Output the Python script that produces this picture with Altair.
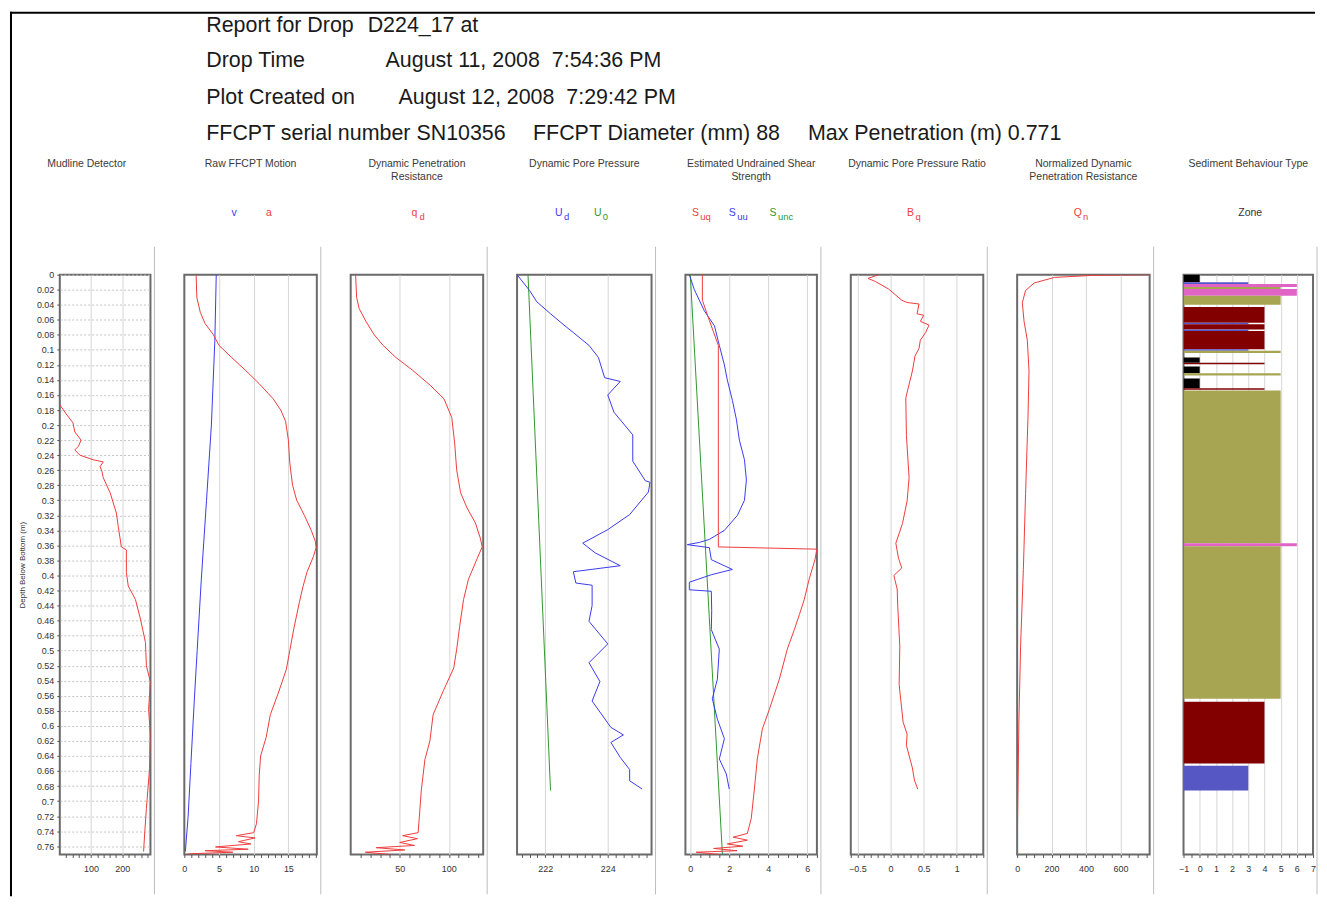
import json
import altair as alt
import pandas as pd

# ------------------------------------------------------------------ text
NB = "\u00a0"
HEADER_TEXT = [
    "Report for Drop", "D224_17 at",
    "Drop Time", "August 11, 2008" + NB + " 7:54:36 PM",
    "Plot Created on", "August 12, 2008" + NB + " 7:29:42 PM",
    "FFCPT serial number SN10356", "FFCPT Diameter (mm) 88", "Max Penetration (m) 0.771",
]
PANEL_TITLES = [
    ["Mudline Detector"],
    ["Raw FFCPT Motion"],
    ["Dynamic Penetration", "Resistance"],
    ["Dynamic Pore Pressure"],
    ["Estimated Undrained Shear", "Strength"],
    ["Dynamic Pore Pressure Ratio"],
    ["Normalized Dynamic", "Penetration Resistance"],
    ["Sediment Behaviour Type"],
]
Y_TITLE = "Depth Below Bottom (m)"
MAX_PEN = 0.771
DEPTH_TICKS = [round(0.02 * k, 2) for k in range(39)]

# ------------------------------------------------------------------ data
# Panel 1 : mudline detector
MUD_DEPTH = [0.173, 0.185, 0.197, 0.209, 0.220, 0.228, 0.233, 0.240, 0.246, 0.249, 0.255,
             0.262, 0.270, 0.290, 0.317, 0.335, 0.362, 0.366, 0.396, 0.414, 0.432, 0.458,
             0.489, 0.520, 0.542, 0.578, 0.613, 0.657, 0.710, 0.740, 0.767]
MUD_VAL = [0, 20, 42, 48, 68, 60, 48, 64, 106, 139, 129, 135, 139, 161, 181, 187, 197, 213,
           213, 219, 242, 258, 274, 277, 290, 284, 290, 287, 277, 272, 268]

# Panel 2 : velocity (v) and deceleration (a)
V_DEPTH = [0.0, 0.087, 0.2, 0.3, 0.405, 0.5, 0.564, 0.65, 0.72, 0.767]
V_VAL = [4.6, 4.4, 3.9, 3.2, 2.45, 1.85, 1.45, 0.95, 0.55, 0.15]
A_DEPTH = [0.000, 0.030, 0.050, 0.065, 0.080, 0.094, 0.110, 0.127, 0.145, 0.165, 0.180,
           0.195, 0.220, 0.250, 0.280, 0.300, 0.320, 0.340, 0.355, 0.363, 0.375, 0.395,
           0.415, 0.435, 0.470, 0.500, 0.525, 0.555, 0.585, 0.615, 0.640, 0.665, 0.700,
           0.730, 0.742, 0.746, 0.749, 0.754, 0.757, 0.761, 0.764, 0.766, 0.768, 0.770, 0.771]
A_VAL = [1.7, 1.8, 2.3, 3.0, 4.2, 5.0, 6.8, 8.8, 10.8, 12.8, 13.9, 14.6, 15.0, 15.2, 15.6,
         16.2, 17.3, 18.3, 18.9, 19.0, 18.6, 17.7, 17.1, 16.6, 15.8, 15.2, 14.7, 13.6, 12.4,
         11.8, 11.0, 10.8, 10.7, 10.4, 10.0, 7.5, 10.2, 7.8, 9.6, 4.5, 9.2, 3.0, 7.0, 1.0, 0.3]

# Panel 3 : dynamic penetration resistance qd
QD_DEPTH = [0.000, 0.030, 0.045, 0.062, 0.080, 0.094, 0.110, 0.127, 0.147, 0.165, 0.190,
            0.225, 0.260, 0.290, 0.310, 0.330, 0.350, 0.362, 0.377, 0.405, 0.432, 0.468,
            0.498, 0.523, 0.553, 0.585, 0.620, 0.645, 0.685, 0.720, 0.742, 0.746, 0.750,
            0.755, 0.759, 0.762, 0.765, 0.768, 0.771]
QD_VAL = [5, 6, 8.6, 15.5, 24, 33, 46, 63, 81, 95, 103, 106, 108, 112, 118.5, 127, 132, 134,
          129, 120, 115, 111, 108, 105, 94.5, 84, 80.7, 75.6, 72, 70, 68.7, 53, 68, 50, 65,
          26, 55, 15, 40]

# Panel 4 : dynamic pore pressure ud and u0
UD_DEPTH = [0.0, 0.021, 0.036, 0.052, 0.067, 0.077, 0.094, 0.110, 0.137, 0.142, 0.160,
            0.183, 0.213, 0.248, 0.274, 0.276, 0.289, 0.319, 0.339, 0.357, 0.370, 0.387,
            0.395, 0.410, 0.413, 0.440, 0.461, 0.486, 0.491, 0.516, 0.541, 0.567, 0.602,
            0.612, 0.622, 0.642, 0.658, 0.673, 0.684]
UD_VAL = [221.1, 221.5, 221.73, 222.17, 222.6, 222.9, 223.4, 223.7, 223.9, 224.4, 224.0,
          224.2, 224.8, 224.8, 225.2, 225.35, 225.3, 224.7, 224.0, 223.2, 223.6, 224.4,
          222.9, 222.98, 223.5, 223.5, 223.4, 223.9, 224.0, 223.4, 223.75, 223.5, 224.1,
          224.5, 224.1, 224.4, 224.7, 224.7, 225.1]
U0_DEPTH = [0.0, 0.686]
U0_VAL = [221.45, 222.17]

# Panel 5 : undrained shear strength
SUQ_DEPTH = [0.000, 0.034, 0.061, 0.094, 0.362, 0.365, 0.379, 0.405, 0.432, 0.452, 0.472,
             0.498, 0.538, 0.578, 0.604, 0.644, 0.684, 0.723, 0.743, 0.748, 0.752, 0.757,
             0.760, 0.763, 0.766, 0.768, 0.771]
SUQ_VAL = [0.62, 0.62, 0.98, 1.44, 1.44, 6.5, 6.4, 6.1, 5.85, 5.6, 5.34, 4.98, 4.57, 4.06,
           3.7, 3.44, 3.29, 3.13, 2.93, 2.2, 2.93, 1.9, 2.7, 1.2, 2.4, 0.3, 1.5]
SUU_DEPTH = [0.0, 0.02, 0.048, 0.068, 0.094, 0.12, 0.14, 0.167, 0.193, 0.22, 0.246, 0.273,
             0.30, 0.32, 0.34, 0.352, 0.356, 0.359, 0.363, 0.379, 0.392, 0.399, 0.409, 0.419,
             0.421, 0.447, 0.472, 0.498, 0.538, 0.564, 0.591, 0.617, 0.644, 0.664, 0.684]
SUU_VAL = [-0.05, 0.21, 0.72, 1.24, 1.49, 1.75, 1.9, 2.16, 2.37, 2.52, 2.78, 2.88, 2.78,
           2.42, 1.75, 0.98, 0.47, -0.15, 0.98, 1.08, 2.16, 1.08, -0.05, -0.05, 1.08, 1.1,
           1.08, 1.49, 1.39, 1.13, 1.39, 1.75, 1.49, 1.85, 2.0]
SUNC_DEPTH = [0.0, 0.771]
SUNC_VAL = [0.0, 1.65]

# Panel 6 : pore pressure ratio Bq
BQ_DEPTH = [0.0, 0.005, 0.009, 0.019, 0.034, 0.037, 0.039, 0.052, 0.054, 0.062, 0.067,
            0.077, 0.087, 0.098, 0.108, 0.128, 0.153, 0.164, 0.214, 0.270, 0.301, 0.331,
            0.357, 0.377, 0.390, 0.400, 0.418, 0.443, 0.494, 0.545, 0.595, 0.611, 0.626,
            0.656, 0.672, 0.684]
BQ_VAL = [-0.18, -0.34, -0.23, -0.03, 0.17, 0.25, 0.43, 0.40, 0.50, 0.45, 0.58, 0.53, 0.45,
          0.43, 0.37, 0.33, 0.26, 0.23, 0.24, 0.28, 0.25, 0.18, 0.08, 0.12, 0.17, 0.05, 0.10,
          0.11, 0.14, 0.13, 0.19, 0.25, 0.24, 0.33, 0.36, 0.41]

# Panel 7 : normalised penetration resistance Qn
QN_DEPTH = [0.0, 0.001, 0.0036, 0.011, 0.021, 0.037, 0.062, 0.087, 0.128, 0.189, 0.291,
            0.392, 0.494, 0.595, 0.697, 0.771]
QN_VAL = [770, 434, 217, 99, 49, 30, 40, 59, 69, 63, 49, 36, 20, 10, 4, 0]

# Panel 8 : sediment behaviour type zones
SBT_TOP = [0.000, 0.010, 0.0125, 0.0165, 0.019, 0.028, 0.043, 0.064, 0.066, 0.073, 0.075,
           0.099, 0.101, 0.110, 0.117, 0.122, 0.131, 0.138, 0.151, 0.154, 0.357, 0.361,
           0.568, 0.653]
SBT_BOT = [0.010, 0.0125, 0.0165, 0.019, 0.028, 0.040, 0.064, 0.066, 0.073, 0.075, 0.099,
           0.101, 0.104, 0.117, 0.119, 0.131, 0.134, 0.151, 0.153, 0.357, 0.361, 0.564,
           0.650, 0.686]
SBT_ZONE = [0, 3, 6, 5, 6, 5, 4, 3, 4, 3, 4, 3, 5, 0, 4, 0, 5, 0, 4, 5, 6, 5, 4, 3]
ZONE_IDS = [0, 3, 4, 5, 6]
ZONE_COLORS = ["#000000", "#5656c4", "#820000", "#a8a552", "#e064c6"]

# ------------------------------------------------------------------ style / layout
FONT = "Liberation Sans"
RED, BLUE, GREEN = "#ef3c3c", "#3b3bef", "#2f982f"
ORIGIN_X, ORIGIN_Y = 58, 274            # page position of the first plot area
WIDTHS = [91, 133, 133, 135, 132, 133, 133, 130]
HEIGHT = 582
SPACING = 34
YS = alt.Scale(domain=[0, MAX_PEN], reverse=True, nice=False, zero=False)
ONE = pd.DataFrame({"k": [0]})


def series(depth, vals):
    return pd.DataFrame({"depth": depth, "val": vals, "i": list(range(len(depth)))})


def steps(lo, hi, step):
    n = int(round((hi - lo) / step))
    return [round(lo + k * step, 4) for k in range(n + 1)]


def xaxis(minor, major, grid):
    lt = "indexof(%s, datum.value) >= 0" % json.dumps(major)
    gt = "indexof(%s, datum.value) >= 0" % json.dumps(grid)
    return alt.Axis(
        values=minor, format="~r", labelExpr=f"{lt} ? datum.label : ''",
        grid=True, gridColor="#d6d6d6",
        gridOpacity={"condition": {"test": gt, "value": 1}, "value": 0},
        tickSize=3, tickColor="#555555", domain=False, labelFontSize=9,
        labelColor="#333333", labelPadding=7, labelOverlap=False, labelFlush=False,
        title=None)


YAXIS = alt.Axis(
    values=DEPTH_TICKS, format=".2~f", grid=True, gridDash=[2, 2], gridColor="#c4c4c4",
    tickSize=3, tickColor="#555555", domain=False, labelFontSize=9, labelColor="#333333",
    labelPadding=3, labelOverlap=False, labelFlush=False, title=Y_TITLE, titleFontSize=8,
    titleFontWeight="normal", titleColor="#333333", titlePadding=10)


def line(df, color, xs, xa, ya=None):
    return alt.Chart(df).mark_line(color=color, strokeWidth=1, clip=True).encode(
        x=alt.X("val:Q", scale=xs, axis=xa),
        y=alt.Y("depth:Q", scale=YS, axis=ya),
        order=alt.Order("i:Q"))


def text(t, x, y, size, color, align="center", **kw):
    return alt.Chart(ONE).mark_text(
        text=t, fontSize=size, color=color, align=align, baseline="middle", font=FONT, **kw
    ).encode(x=alt.value(x), y=alt.value(y))


def vrule(x, y1, y2, color, w):
    return alt.Chart(ONE).mark_rule(color=color, strokeWidth=w).encode(
        x=alt.value(x), y=alt.value(y1), y2=alt.value(y2))


def hrule(x1, x2, y, color, w):
    return alt.Chart(ONE).mark_rule(color=color, strokeWidth=w).encode(
        x=alt.value(x1), x2=alt.value(x2), y=alt.value(y))


TITLE_CENTER = [27, None, None, None, None, None, None, None]
LEGENDS = [
    [],
    [("v", "", BLUE, 50), ("a", "", RED, 85)],
    [("q", "d", RED, 64)],
    [("U", "d", BLUE, 42), ("U", "0", GREEN, 81)],
    [("S", "uq", RED, 10), ("S", "uu", BLUE, 47), ("S", "unc", GREEN, 88)],
    [("B", "q", RED, 60)],
    [("Q", "n", RED, 61)],
    [("Zone", "", "#333333", 67)],
]


def decorations(k):
    w = WIDTHS[k]
    cx = TITLE_CENTER[k] if TITLE_CENTER[k] is not None else w / 2
    out = [text(PANEL_TITLES[k], cx, -111, 10.5, "#3a3a3a", lineHeight=13)]
    for main, sub, col, x in LEGENDS[k]:
        out.append(text(main, x, -62, 10.5, col))
        if sub:
            out.append(text(sub, x + 5, -58, 9.5, col, align="left"))
    out.append(vrule(w + 4, -28, 622, "#bdbdbd", 1))
    return out


# ------------------------------------------------------------------ panels
panels = []

# 1 mudline detector
xs = alt.Scale(domain=[0, 290], nice=False, zero=False)
xa = xaxis(steps(20, 280, 20), [100, 200], [100, 200])
layers = [line(series(MUD_DEPTH, MUD_VAL), RED, xs, xa, YAXIS)]
layers += decorations(0)
hdr_pos = [(205, 24), (367, 24), (205, 60), (385, 60), (205, 97), (398, 97),
           (205, 133), (533, 133), (809, 133)]
for t, (px, py) in zip(HEADER_TEXT, hdr_pos):
    layers.append(text(t, px - ORIGIN_X, py - ORIGIN_Y, 21.5, "#1a1a1a", align="left"))
layers.append(vrule(-49, -264, 624, "#000000", 2))
layers.append(hrule(-50, 1260, -263, "#000000", 2))
panels.append(alt.layer(*layers).properties(width=WIDTHS[0], height=HEIGHT))

# 2 raw motion
xs = alt.Scale(domain=[0, 19.1], nice=False, zero=False)
xa = xaxis(steps(0, 19, 1), [0, 5, 10, 15], [5, 10, 15])
layers = [line(series(V_DEPTH, V_VAL), BLUE, xs, xa), line(series(A_DEPTH, A_VAL), RED, xs, xa)]
panels.append(alt.layer(*layers, *decorations(1)).properties(width=WIDTHS[1], height=HEIGHT))

# 3 qd
xs = alt.Scale(domain=[0, 135], nice=False, zero=False)
xa = xaxis(steps(10, 130, 10), [50, 100], [50, 100])
layers = [line(series(QD_DEPTH, QD_VAL), RED, xs, xa)]
panels.append(alt.layer(*layers, *decorations(2)).properties(width=WIDTHS[2], height=HEIGHT))

# 4 pore pressure
xs = alt.Scale(domain=[221.1, 225.4], nice=False, zero=False)
xa = xaxis(steps(221.25, 225.25, 0.25), [222, 224], [222, 224])
layers = [line(series(U0_DEPTH, U0_VAL), GREEN, xs, xa), line(series(UD_DEPTH, UD_VAL), BLUE, xs, xa)]
panels.append(alt.layer(*layers, *decorations(3)).properties(width=WIDTHS[3], height=HEIGHT))

# 5 shear strength
xs = alt.Scale(domain=[-0.25, 6.5], nice=False, zero=False)
xa = xaxis(steps(0, 6.5, 0.5), [0, 2, 4, 6], [0, 2, 4, 6])
layers = [line(series(SUNC_DEPTH, SUNC_VAL), GREEN, xs, xa),
          line(series(SUU_DEPTH, SUU_VAL), BLUE, xs, xa),
          line(series(SUQ_DEPTH, SUQ_VAL), RED, xs, xa)]
panels.append(alt.layer(*layers, *decorations(4)).properties(width=WIDTHS[4], height=HEIGHT))

# 6 Bq
xs = alt.Scale(domain=[-0.6, 1.4], nice=False, zero=False)
xa = xaxis(steps(-0.6, 1.4, 0.1), [-0.5, 0, 0.5, 1], [-0.5, 0, 0.5, 1])
layers = [line(series(BQ_DEPTH, BQ_VAL), RED, xs, xa)]
panels.append(alt.layer(*layers, *decorations(5)).properties(width=WIDTHS[5], height=HEIGHT))

# 7 Qn
xs = alt.Scale(domain=[0, 770], nice=False, zero=False)
xa = xaxis(steps(0, 750, 50), [0, 200, 400, 600], [200, 400, 600])
layers = [line(series(QN_DEPTH, QN_VAL), RED, xs, xa)]
panels.append(alt.layer(*layers, *decorations(6)).properties(width=WIDTHS[6], height=HEIGHT))

# 8 SBT zones
xs = alt.Scale(domain=[-1, 7], nice=False, zero=False)
xa = xaxis(steps(-1, 7, 0.5), list(range(-1, 8)), list(range(0, 7)))
sbt = pd.DataFrame({"top": SBT_TOP, "bot": SBT_BOT, "zone": SBT_ZONE})
bars = alt.Chart(sbt).mark_rect(clip=True).encode(
    x=alt.X("zone:Q", scale=xs, axis=xa),
    x2=alt.value(0),
    y=alt.Y("top:Q", scale=YS, axis=None),
    y2="bot:Q",
    color=alt.Color("zone:N", scale=alt.Scale(domain=ZONE_IDS, range=ZONE_COLORS), legend=None))
panels.append(alt.layer(bars, *decorations(7)).properties(width=WIDTHS[7], height=HEIGHT))

chart = (
    alt.hconcat(*panels, spacing=SPACING, bounds="flush")
    .properties(padding=0, background="white")
    .configure(font=FONT)
    .configure_view(stroke="#6a6a6a", strokeWidth=2)
)
chart.save("out.html", embed_options={"renderer": "svg", "actions": False})
